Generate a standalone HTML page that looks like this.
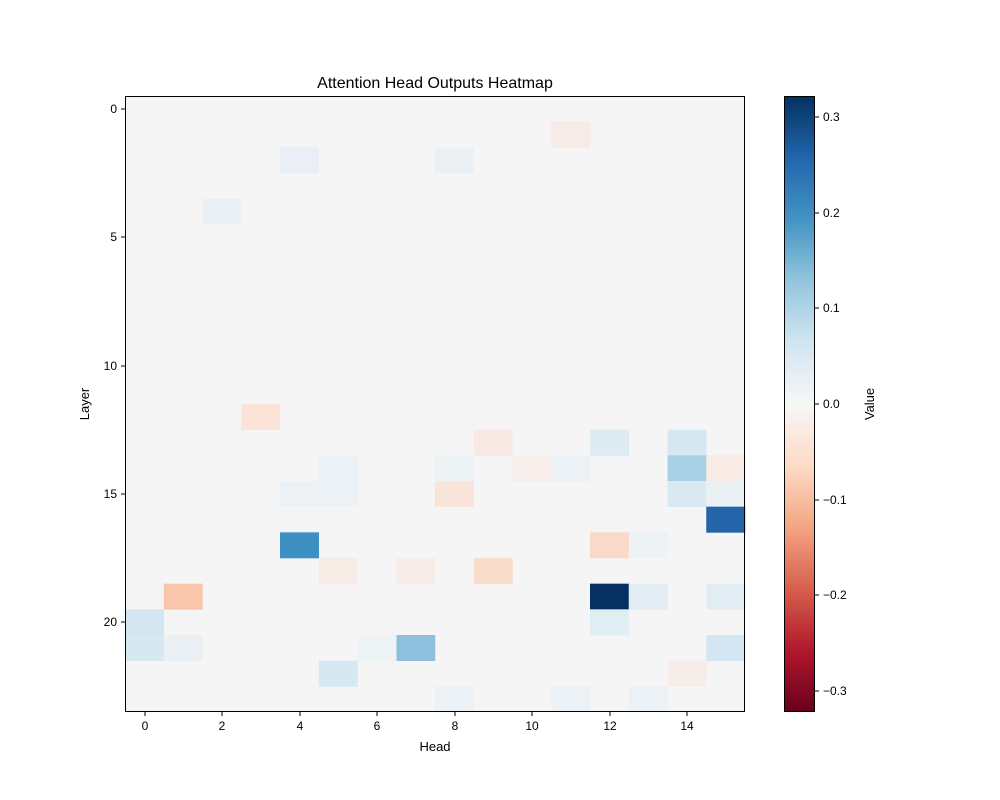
<!DOCTYPE html>
<html><head><style>body{margin:0;background:#fff}svg{display:block;font-family:"Liberation Sans","DejaVu Sans",sans-serif}</style></head>
<body>
<svg width="1000" height="800" xmlns="http://www.w3.org/2000/svg">
<defs>
<linearGradient id="g" x1="0" y1="0" x2="0" y2="1">
<stop offset="0" stop-color="#053061"/><stop offset="0.1" stop-color="#2166ac"/><stop offset="0.2" stop-color="#4393c3"/><stop offset="0.3" stop-color="#92c5de"/><stop offset="0.4" stop-color="#d1e5f0"/><stop offset="0.5" stop-color="#f7f7f7"/><stop offset="0.6" stop-color="#fddbc7"/><stop offset="0.7" stop-color="#f4a582"/><stop offset="0.8" stop-color="#d6604d"/><stop offset="0.9" stop-color="#b2182b"/><stop offset="1" stop-color="#67001f"/>
</linearGradient>
</defs>
<text x="435" y="88" font-size="16" text-anchor="middle">Attention Head Outputs Heatmap</text>
<rect x="125" y="96" width="620" height="616" fill="#f5f5f5"/>
<g>
<rect x="551.25" y="121.67" width="39" height="26" fill="#f7ebe8"/>
<rect x="280" y="147.33" width="39" height="26" fill="#e9eff4"/>
<rect x="435" y="147.33" width="39" height="26" fill="#ebf0f4"/>
<rect x="202.5" y="198.67" width="39" height="26" fill="#ebf0f4"/>
<rect x="241.25" y="404" width="39" height="26" fill="#fbe3d7"/>
<rect x="590" y="429.67" width="39" height="26" fill="#dfebf3"/>
<rect x="667.5" y="429.67" width="39" height="26" fill="#d6e7f1"/>
<rect x="473.75" y="429.67" width="39" height="26" fill="#f8e9e4"/>
<rect x="667.5" y="455.33" width="39" height="26" fill="#a9d0e5"/>
<rect x="706.25" y="455.33" width="39" height="26" fill="#f8ebe5"/>
<rect x="318.75" y="455.33" width="39" height="26" fill="#ebf1f5"/>
<rect x="551.25" y="455.33" width="39" height="26" fill="#ecf1f5"/>
<rect x="512.5" y="455.33" width="39" height="26" fill="#f7eeeb"/>
<rect x="435" y="455.33" width="39" height="26" fill="#edf2f5"/>
<rect x="667.5" y="481" width="39" height="26" fill="#d9e9f2"/>
<rect x="706.25" y="481" width="39" height="26" fill="#eaf1f5"/>
<rect x="435" y="481" width="39" height="26" fill="#f9e4da"/>
<rect x="280" y="481" width="39" height="26" fill="#ebf1f5"/>
<rect x="318.75" y="481" width="39" height="26" fill="#ebf1f5"/>
<rect x="706.25" y="506.67" width="39" height="26" fill="#2464a9"/>
<rect x="280" y="532.33" width="39" height="26" fill="#3e8fc2"/>
<rect x="590" y="532.33" width="39" height="26" fill="#fad9c8"/>
<rect x="628.75" y="532.33" width="39" height="26" fill="#edf2f5"/>
<rect x="318.75" y="558" width="39" height="26" fill="#f7ebe6"/>
<rect x="396.25" y="558" width="39" height="26" fill="#f7ece8"/>
<rect x="473.75" y="558" width="39" height="26" fill="#fbddcc"/>
<rect x="163.75" y="583.67" width="39" height="26" fill="#f9c5ab"/>
<rect x="590" y="583.67" width="39" height="26" fill="#053061"/>
<rect x="628.75" y="583.67" width="39" height="26" fill="#e2edf3"/>
<rect x="706.25" y="583.67" width="39" height="26" fill="#e2edf3"/>
<rect x="125" y="609.33" width="39" height="26" fill="#d4e6f1"/>
<rect x="590" y="609.33" width="39" height="26" fill="#e0edf3"/>
<rect x="125" y="635" width="39" height="26" fill="#d8e8f1"/>
<rect x="163.75" y="635" width="39" height="26" fill="#eaf0f4"/>
<rect x="396.25" y="635" width="39" height="26" fill="#8ec0dd"/>
<rect x="357.5" y="635" width="39" height="26" fill="#eef3f5"/>
<rect x="706.25" y="635" width="39" height="26" fill="#d4e6f1"/>
<rect x="318.75" y="660.67" width="39" height="26" fill="#d6e8f1"/>
<rect x="667.5" y="660.67" width="39" height="26" fill="#f7ede8"/>
<rect x="435" y="686.33" width="39" height="25.67" fill="#ebf1f5"/>
<rect x="551.25" y="686.33" width="39" height="25.67" fill="#ebf1f5"/>
<rect x="628.75" y="686.33" width="39" height="25.67" fill="#ebf1f5"/>
</g>
<rect x="125.5" y="96.5" width="619" height="615" fill="none" stroke="#000" stroke-width="1"/>
<g font-size="12" text-anchor="middle">
<g stroke="#000"><line x1="145" y1="712" x2="145" y2="716"/><line x1="222" y1="712" x2="222" y2="716"/><line x1="300" y1="712" x2="300" y2="716"/><line x1="377" y1="712" x2="377" y2="716"/><line x1="455" y1="712" x2="455" y2="716"/><line x1="532" y1="712" x2="532" y2="716"/><line x1="610" y1="712" x2="610" y2="716"/><line x1="687" y1="712" x2="687" y2="716"/></g>
<text x="145" y="730">0</text><text x="222" y="730">2</text><text x="300" y="730">4</text><text x="377" y="730">6</text><text x="455" y="730">8</text><text x="532" y="730">10</text><text x="610" y="730">12</text><text x="687" y="730">14</text>
<text x="435" y="751" font-size="13">Head</text>
</g>
<g font-size="12" text-anchor="end">
<g stroke="#000"><line x1="121" y1="109" x2="125" y2="109"/><line x1="121" y1="237" x2="125" y2="237"/><line x1="121" y1="366" x2="125" y2="366"/><line x1="121" y1="494" x2="125" y2="494"/><line x1="121" y1="622" x2="125" y2="622"/></g>
<text x="117" y="113">0</text><text x="117" y="241">5</text><text x="117" y="370">10</text><text x="117" y="498">15</text><text x="117" y="626">20</text>
</g>
<text transform="translate(89,404) rotate(-90)" font-size="13" text-anchor="middle">Layer</text>
<rect x="784" y="96" width="31" height="616" fill="url(#g)"/>
<rect x="784.5" y="96.5" width="30" height="615" fill="none" stroke="#000"/>
<g font-size="12">
<g stroke="#000"><line x1="815" y1="117" x2="819" y2="117"/><line x1="815" y1="213" x2="819" y2="213"/><line x1="815" y1="308" x2="819" y2="308"/><line x1="815" y1="404" x2="819" y2="404"/><line x1="815" y1="500" x2="819" y2="500"/><line x1="815" y1="595" x2="819" y2="595"/><line x1="815" y1="691" x2="819" y2="691"/></g>
<text x="823" y="121">0.3</text><text x="823" y="217">0.2</text><text x="823" y="312">0.1</text><text x="823" y="408">0.0</text><text x="823" y="504">−0.1</text><text x="823" y="599">−0.2</text><text x="823" y="695">−0.3</text>
</g>
<text transform="translate(874,404) rotate(-90)" font-size="13" text-anchor="middle">Value</text>
</svg>
</body></html>
